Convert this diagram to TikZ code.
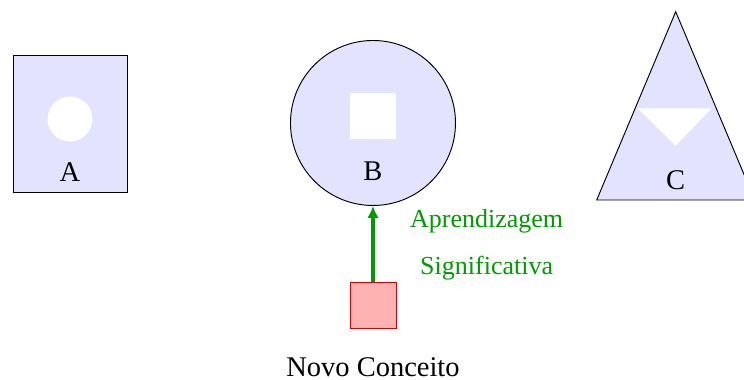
\documentclass[12pt,tikz,border=0pt]{standalone}
\usepackage{fontspec}
\setmainfont{Liberation Serif}
\usetikzlibrary{arrows.meta, positioning, calc}

\colorlet{formfill}{blue!11}
\definecolor{verde}{RGB}{0,155,0}

\begin{document}
\begin{tikzpicture}[
        form/.style={draw=black, fill=formfill},
        hole/.style={fill=white, draw=none},
        tag/.style={anchor=base, inner sep=0pt},
        newbox/.style={draw=red!85!black, fill=red!30, rectangle, minimum size=0.681cm, inner sep=0pt},
        learn/.style={-{Latex[length=5pt, width=4.8pt]}, ultra thick, draw=verde},
        learntext/.style={inner sep=0pt, text=verde, font=\small}
    ]
        \useasboundingbox (0,0) rectangle (11.011,5.609);

        % --- Forma A ---
        \node[form, rectangle, minimum width=1.687cm, minimum height=2.032cm] (A) at (1.040,3.779) {};
        \fill[white] (1.036,3.848) circle (0.333);
        \node[tag] (A_lbl) at (1.036,2.920) {A};

        % --- Forma B ---
        \node[form, circle, minimum size=2.442cm, inner sep=0pt] (B) at (5.520,3.789) {};
        \node[hole, rectangle, minimum size=0.681cm, inner sep=0pt] (B_hole) at (5.520,3.892) {};
        \node[tag] (B_lbl) at (5.520,2.935) {B};

        % --- Forma C (sai da figura pela direita) ---
        \draw[form] (10.000,5.436) -- (8.831,2.649) -- (11.170,2.649) -- cycle;
        \fill[white] (9.438,4.006) -- (10.533,4.006) -- (10.000,3.453) -- cycle;
        \node[tag] (C_lbl) at (10.000,2.805) {C};

        % --- Novo conceito ---
        \node[newbox] (novo) at (5.520,1.091) {};
        \node[below=0.706cm of novo.south, anchor=base] (novo_lbl) {Novo Conceito};

        % --- Seta ---
        \draw[learn] (novo.north) -- (B.south);
        \node[learntext, anchor=base] (apr) at (7.202,2.245) {Aprendizagem};
        \node[learntext, below=0.691cm of apr.base, anchor=base] (sig) {Significativa};
\end{tikzpicture}
\end{document}
